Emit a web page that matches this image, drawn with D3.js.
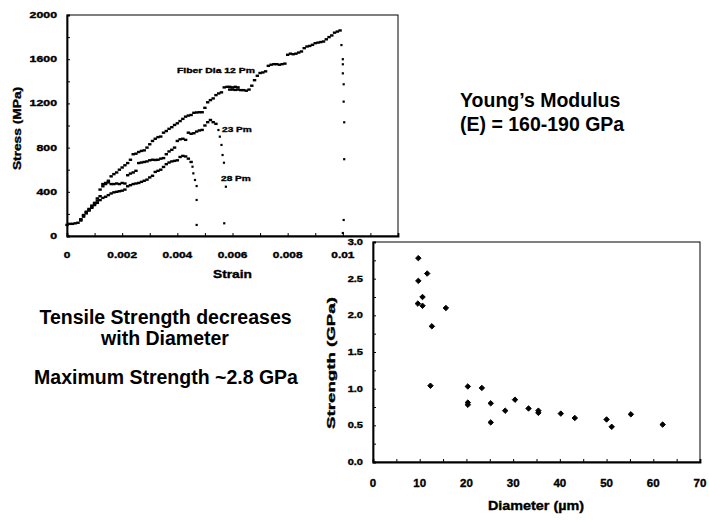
<!DOCTYPE html>
<html><head><meta charset="utf-8">
<script src="https://cdn.jsdelivr.net/npm/d3@7"></script>
<style>
html,body{margin:0;padding:0;background:#fff;}
svg text{font-family:"Liberation Sans",Arial,sans-serif;font-weight:bold;fill:#000;}
svg text.small{stroke:#000;stroke-width:0.35px;}
</style></head>
<body>
<svg id="c" width="709" height="523"></svg>
<script>
// ---------- DATA: stress-strain curves (strain, stress MPa) ----------
const curve12 = [[0,100],[0.0001,110],[0.0002,110],[0.0003,115],[0.0004,120],[0.0005,150],[0.0006,190],[0.0007,220],[0.0008,245],[0.0009,275],[0.0010,300],[0.0011,340],[0.0012,420],[0.0013,450],[0.0014,470],[0.0015,500],[0.0016,540],[0.0017,560],[0.0018,575],[0.0019,600],[0.0020,620],[0.0021,640],[0.0022,660],[0.0023,690],[0.0024,740],[0.0025,745],[0.0026,760],[0.0027,770],[0.0028,775],[0.0029,800],[0.0030,830],[0.0031,860],[0.0032,880],[0.0033,895],[0.0034,900],[0.0035,935],[0.0036,950],[0.0037,970],[0.0038,985],[0.0039,1005],[0.0040,1020],[0.0041,1040],[0.0042,1060],[0.0043,1080],[0.0044,1090],[0.0045,1095],[0.0046,1115],[0.0047,1118],[0.0048,1120],[0.0049,1120],[0.0050,1160],[0.0051,1210],[0.0052,1230],[0.0053,1245],[0.0054,1275],[0.0055,1290],[0.0056,1300],[0.0057,1345],[0.0058,1350],[0.0059,1350],[0.0060,1345],[0.0061,1350],[0.0062,1345],[0.0059,1325],[0.0060,1325],[0.0061,1322],[0.0062,1325],[0.0063,1320],[0.0064,1320],[0.0065,1315],[0.0066,1325],[0.0067,1360],[0.0068,1410],[0.0069,1450],[0.0070,1475],[0.0071,1480],[0.0072,1490],[0.0073,1540],[0.0074,1550],[0.0075,1555],[0.0076,1555],[0.0077,1550],[0.0078,1555],[0.0079,1560],[0.0080,1640],[0.0081,1650],[0.0082,1645],[0.0083,1650],[0.0084,1660],[0.0085,1670],[0.0086,1700],[0.0087,1715],[0.0088,1720],[0.0089,1730],[0.0090,1745],[0.0091,1750],[0.0092,1755],[0.0093,1760],[0.0094,1780],[0.0095,1800],[0.0096,1815],[0.0097,1840],[0.0098,1850],[0.0099,1860]];
const fracture12 = [[0.00995,1728],[0.0100,1600],[0.0100,1554],[0.0100,1472],[0.01003,1373],[0.01003,1216],[0.01005,1029],[0.01005,695],[0.01003,145],[0.0100,27]];
const curve23 = [[0.0005,150],[0.0006,185],[0.0007,215],[0.0008,240],[0.0009,265],[0.0010,290],[0.0011,320],[0.0012,360],[0.0013,470],[0.0014,480],[0.0015,485],[0.0016,470],[0.0017,470],[0.0018,475],[0.0019,470],[0.0020,480],[0.0021,475],[0.0022,550],[0.0023,565],[0.0024,575],[0.0025,590],[0.0026,660],[0.0027,665],[0.0028,670],[0.0029,675],[0.0030,685],[0.0031,690],[0.0032,688],[0.0033,690],[0.0034,700],[0.0035,705],[0.0036,740],[0.0037,765],[0.0038,780],[0.0039,800],[0.0040,860],[0.0041,875],[0.0042,880],[0.0043,870],[0.0044,935],[0.0045,925],[0.0046,930],[0.0047,945],[0.0048,955],[0.0049,960],[0.0050,1000],[0.0051,1030],[0.0052,1050],[0.0053,1030],[0.0054,1015]];
const fracture23 = [[0.00549,959],[0.00554,899],[0.0056,824],[0.00564,733],[0.00569,663],[0.00576,446],[0.0057,115]];
const curve28 = [[0.0005,140],[0.0006,175],[0.0007,205],[0.0008,230],[0.0009,255],[0.0010,280],[0.0011,300],[0.0012,325],[0.0013,345],[0.0014,355],[0.0015,370],[0.0016,385],[0.0017,395],[0.0018,400],[0.0019,405],[0.0020,410],[0.0021,420],[0.0022,450],[0.0023,460],[0.0024,470],[0.0025,475],[0.0026,480],[0.0027,490],[0.0028,500],[0.0029,510],[0.0030,530],[0.0031,545],[0.0032,580],[0.0033,590],[0.0034,600],[0.0035,625],[0.0036,650],[0.0037,665],[0.0038,675],[0.0039,680],[0.0040,685],[0.0041,715],[0.0042,725],[0.0043,720],[0.0044,700],[0.0045,670]];
const fracture28 = [[0.00455,627],[0.00458,567],[0.00464,507],[0.0047,452],[0.0047,326],[0.0047,100]];
const curveLabels = ["Fiber Dia 12 Pm","23 Pm","28 Pm"];
const strainTicks = [0,0.002,0.004,0.006,0.008,0.01];
const strainTickLabels = ["0","0.002","0.004","0.006","0.008","0.01"];
const stressTicks = [0,400,800,1200,1600,2000];

// ---------- DATA: strength vs diameter ----------
const diameter = [9.7,9.7,11.6,10.6,9.6,10.6,15.6,12.6,12.3,20.3,23.3,20.3,20.3,25.2,25.2,28.3,30.4,33.3,35.4,35.4,40.2,43.2,50.0,51.1,55.2,62.0];
const strength = [2.78,2.47,2.57,2.25,2.16,2.13,2.10,1.85,1.04,1.03,1.01,0.81,0.78,0.80,0.54,0.70,0.85,0.73,0.70,0.67,0.66,0.60,0.58,0.48,0.65,0.51];
const diamTicks = [0,10,20,30,40,50,60,70];
const strengthTicks = [0,0.5,1,1.5,2,2.5,3];
const strengthTickLabels = ["0.0","0.5","1.0","1.5","2.0","2.5","3.0"];

const svg = d3.select("#c");

function txt(g, s, x, y, size, anchor, sx, rot, cls){
  return g.append("text")
    .attr("class", cls||null)
    .attr("transform", `translate(${x},${y}) rotate(${rot||0}) scale(${sx||1},1)`)
    .attr("text-anchor", anchor||"start")
    .style("font-size", size+"px")
    .text(s);
}

// ================= Top chart =================
const xS = d3.scaleLinear().domain([0,0.012]).range([67,398]);
const yS = d3.scaleLinear().domain([0,2000]).range([236,15]);
const topG = svg.append("g");

topG.append("rect").attr("x",xS(0)).attr("y",yS(2000)).attr("width",xS(0.012)-xS(0)).attr("height",yS(0)-yS(2000))
  .attr("fill","none").attr("stroke","#000").attr("stroke-width",1);
topG.append("g").attr("transform",`translate(${xS(0)},0)`)
  .call(d3.axisLeft(yS).tickValues(d3.range(0,2001,200)).tickSize(-3).tickFormat(""))
  .call(g=>g.select(".domain").attr("stroke-width",1.8));
topG.append("g").attr("transform",`translate(0,${yS(0)})`)
  .call(d3.axisBottom(xS).tickValues(d3.range(0,0.0121,0.001)).tickSize(-3).tickFormat(""))
  .call(g=>g.select(".domain").attr("stroke-width",1.8));

stressTicks.forEach(v=>txt(topG, String(v), 57, yS(v)+3, 8.5, "end", 1.45, 0, "small"));
strainTicks.forEach((v,i)=>txt(topG, strainTickLabels[i], xS(v), 258, 8.5, "middle", 1.4, 0, "small"));
txt(topG, "Strain", (xS(0)+xS(0.012))/2, 278, 11, "middle", 1.25, 0, "small");
txt(topG, "Stress (MPa)", 20.5, yS(1000)+3, 11, "middle", 1.25, -90, "small");

function dashes(data, w, h){
  topG.append("g").selectAll("rect").data(data).join("rect")
    .attr("x",d=>xS(d[0])-w/2).attr("y",d=>yS(d[1])-h/2)
    .attr("width",w).attr("height",h).attr("fill","#000");
}
dashes(curve12, 3.4, 2.4);
dashes(curve23, 3.4, 2.4);
dashes(curve28, 3.4, 2.4);
dashes(fracture12, 2.2, 2.2);
dashes(fracture23, 2.2, 2.2);
dashes(fracture28, 2.2, 2.2);

txt(topG, curveLabels[0], 177, 72.5, 8, "start", 1.3, 0, "small");
txt(topG, curveLabels[1], 222, 132, 8, "start", 1.27, 0, "small");
txt(topG, curveLabels[2], 221, 180.5, 8, "start", 1.27, 0, "small");

// ================= Scatter chart =================
const xD = d3.scaleLinear().domain([0,70]).range([373,700]);
const yD = d3.scaleLinear().domain([0,3]).range([462,242]);
const sc = svg.append("g");
sc.append("rect").attr("x",xD(0)).attr("y",yD(3)).attr("width",xD(70)-xD(0)).attr("height",yD(0)-yD(3))
  .attr("fill","#fff").attr("stroke","#000").attr("stroke-width",1);
sc.append("g").attr("transform",`translate(${xD(0)},0)`)
  .call(d3.axisLeft(yD).tickValues(d3.range(0,3.01,0.25)).tickSize(-3).tickFormat(""))
  .call(g=>g.select(".domain").attr("stroke-width",1.8));
sc.append("g").attr("transform",`translate(0,${yD(0)})`)
  .call(d3.axisBottom(xD).tickValues(d3.range(0,70.1,5)).tickSize(-3).tickFormat(""))
  .call(g=>g.select(".domain").attr("stroke-width",1.8));

strengthTicks.forEach((v,i)=>txt(sc, strengthTickLabels[i], 363, yD(v)+3, 8.5, "end", 1.3, 0, "small"));
diamTicks.forEach(v=>txt(sc, String(v), xD(v), 487, 11, "middle", 1.05, 0, "small"));
txt(sc, "Diameter (\u00b5m)", 536, 510, 12.5, "middle", 1.15, 0, "small");
txt(sc, "Strength (GPa)", 335, 363, 11, "middle", 1.7, -90, "small");

sc.append("g").selectAll("path").data(diameter).join("path")
  .attr("d", d3.symbol(d3.symbolSquare, 15))
  .attr("transform",(d,i)=>`translate(${xD(d)},${yD(strength[i])}) rotate(45)`)
  .attr("fill","#000").attr("stroke","#000").attr("stroke-width",0.9);

// ================= Annotation texts =================
const ann = svg.append("g");
txt(ann, "Young\u2019s Modulus", 460, 106.5, 19.5, "start");
txt(ann, "(E) = 160-190 GPa", 460, 131, 19.5, "start");
txt(ann, "Tensile Strength decreases", 165.5, 324, 19.5, "middle");
txt(ann, "with Diameter", 165, 345, 19.5, "middle");
txt(ann, "Maximum Strength ~2.8 GPa", 166, 384, 19.5, "middle");
</script>
</body></html>
